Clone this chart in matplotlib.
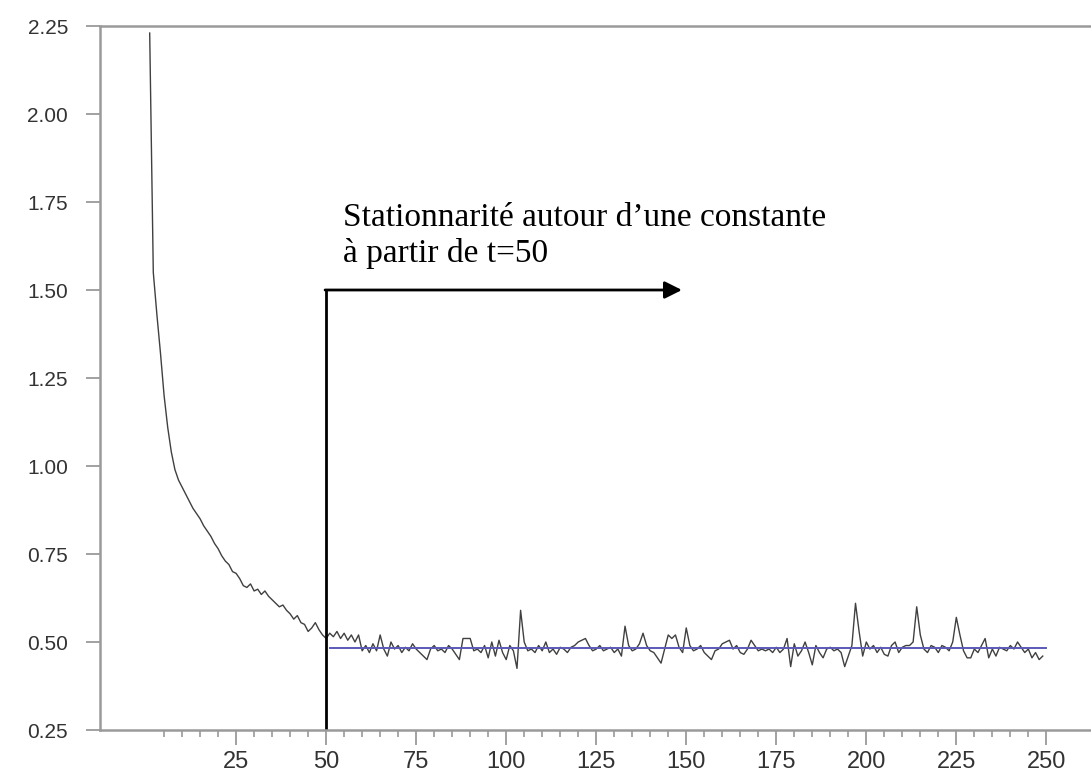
import matplotlib
matplotlib.use("Agg")
import matplotlib.pyplot as plt
from matplotlib.ticker import FixedLocator

# Series observed at t = 1 .. 249
values = [
    2.23, 1.55, 1.43, 1.32, 1.20, 1.11, 1.04, 0.99, 0.96, 0.94,
    0.92, 0.90, 0.88, 0.865, 0.85, 0.83, 0.815, 0.80, 0.78, 0.765,
    0.745, 0.73, 0.72, 0.70, 0.695, 0.68, 0.66, 0.655, 0.665, 0.645,
    0.65, 0.635, 0.645, 0.63, 0.62, 0.61, 0.60, 0.605, 0.59, 0.58,
    0.565, 0.575, 0.555, 0.55, 0.53, 0.54, 0.555, 0.535, 0.52, 0.51,
    0.525, 0.515, 0.53, 0.51, 0.525, 0.505, 0.52, 0.50, 0.52, 0.475,
    0.49, 0.47, 0.495, 0.475, 0.52, 0.48, 0.46, 0.50, 0.48, 0.49,
    0.47, 0.485, 0.475, 0.495, 0.48, 0.47, 0.46, 0.45, 0.48, 0.49,
    0.475, 0.48, 0.47, 0.49, 0.48, 0.465, 0.45, 0.51, 0.51, 0.51,
    0.475, 0.48, 0.47, 0.49, 0.455, 0.50, 0.46, 0.505, 0.47, 0.45,
    0.49, 0.475, 0.425, 0.59, 0.50, 0.475, 0.48, 0.47, 0.49, 0.475,
    0.50, 0.47, 0.48, 0.465, 0.485, 0.48, 0.47, 0.485, 0.49, 0.50,
    0.505, 0.51, 0.49, 0.475, 0.48, 0.49, 0.475, 0.48, 0.485, 0.47,
    0.48, 0.46, 0.545, 0.49, 0.475, 0.48, 0.495, 0.525, 0.49, 0.475,
    0.47, 0.455, 0.44, 0.48, 0.52, 0.51, 0.52, 0.485, 0.47, 0.54,
    0.49, 0.475, 0.48, 0.49, 0.47, 0.46, 0.45, 0.475, 0.48, 0.495,
    0.50, 0.505, 0.48, 0.49, 0.47, 0.465, 0.48, 0.505, 0.49, 0.475,
    0.48, 0.475, 0.48, 0.47, 0.485, 0.47, 0.48, 0.51, 0.43, 0.495,
    0.46, 0.475, 0.50, 0.47, 0.435, 0.49, 0.47, 0.455, 0.48, 0.485,
    0.475, 0.48, 0.47, 0.43, 0.46, 0.49, 0.61, 0.53, 0.46, 0.50,
    0.48, 0.49, 0.47, 0.485, 0.465, 0.46, 0.49, 0.50, 0.47, 0.485,
    0.49, 0.49, 0.50, 0.60, 0.52, 0.48, 0.47, 0.49, 0.485, 0.47,
    0.49, 0.485, 0.475, 0.50, 0.57, 0.52, 0.475, 0.455, 0.455, 0.48,
    0.47, 0.49, 0.51, 0.455, 0.48, 0.46, 0.485, 0.48, 0.475, 0.49,
    0.48, 0.50, 0.485, 0.47, 0.48, 0.455, 0.47, 0.45, 0.46,
]
t = list(range(1, len(values) + 1))

# Constant level of the stationary part
level = 0.483
level_span = [51, 250]

# Break point marked on the chart
t_break = 50
arrow_y = 1.50
arrow_end = 148.8

x_major = [25, 50, 75, 100, 125, 150, 175, 200, 225, 250]
x_minor = [m for m in range(5, 250, 5) if m % 25 != 0]
y_ticks = [0.25, 0.50, 0.75, 1.00, 1.25, 1.50, 1.75, 2.00, 2.25]
y_labels = ["0.25", "0.50", "0.75", "1.00", "1.25", "1.50", "1.75", "2.00", "2.25"]

label_lines = ["Stationnarité autour d\u2019une constante", "à partir de t=50"]

fig = plt.figure(figsize=(10.91, 7.74), dpi=100)
ax = fig.add_axes([100 / 1091, 1 - 730 / 774, 1 - 100 / 1091, (730 - 26) / 774])

ax.plot(t, values, color="#404040", lw=1.0)
ax.plot(level_span, [level, level], color="#5a5ab8", lw=1.4)

ax.set_xlim(-12.8, 262.4)
ax.set_ylim(0.25, 2.25)

spine_col = "#9a9a9a"
for side in ["left", "top", "bottom"]:
    ax.spines[side].set_color(spine_col)
    ax.spines[side].set_linewidth(1.8)
ax.spines["right"].set_visible(False)

ax.xaxis.set_major_locator(FixedLocator(x_major))
ax.xaxis.set_minor_locator(FixedLocator(x_minor))
ax.set_yticks(y_ticks)
ax.set_yticklabels(y_labels)

for lab in ax.get_xticklabels():
    lab.set_fontfamily("Liberation Sans")
    lab.set_fontsize(17)
    lab.set_color("#333333")
for lab in ax.get_yticklabels():
    lab.set_fontfamily("Liberation Sans")
    lab.set_fontsize(15)
    lab.set_color("#333333")

ax.tick_params(axis="x", which="major", direction="out", length=11, width=1.3,
               color=spine_col, pad=4)
ax.tick_params(axis="x", which="minor", direction="out", length=5, width=1.2,
               color=spine_col)
ax.tick_params(axis="y", which="major", direction="out", length=10, width=1.3,
               color=spine_col, pad=13)

# Break marker: vertical line at t=50 then arrow to the right
ax.plot([t_break, t_break], [0.25, arrow_y], color="black", lw=2.0,
        solid_capstyle="butt", clip_on=False)
ax.annotate("", xy=(arrow_end, arrow_y), xytext=(t_break - 0.3, arrow_y),
            arrowprops=dict(arrowstyle="-|>", color="black", lw=2.0,
                            mutation_scale=26, shrinkA=0, shrinkB=0))

ax.text(54.6, 1.682, label_lines[0], family="Liberation Serif", fontsize=24,
        va="baseline", ha="left", color="black")
ax.text(54.6, 1.580, label_lines[1], family="Liberation Serif", fontsize=24,
        va="baseline", ha="left", color="black")

fig.savefig("out.png", dpi=100)
